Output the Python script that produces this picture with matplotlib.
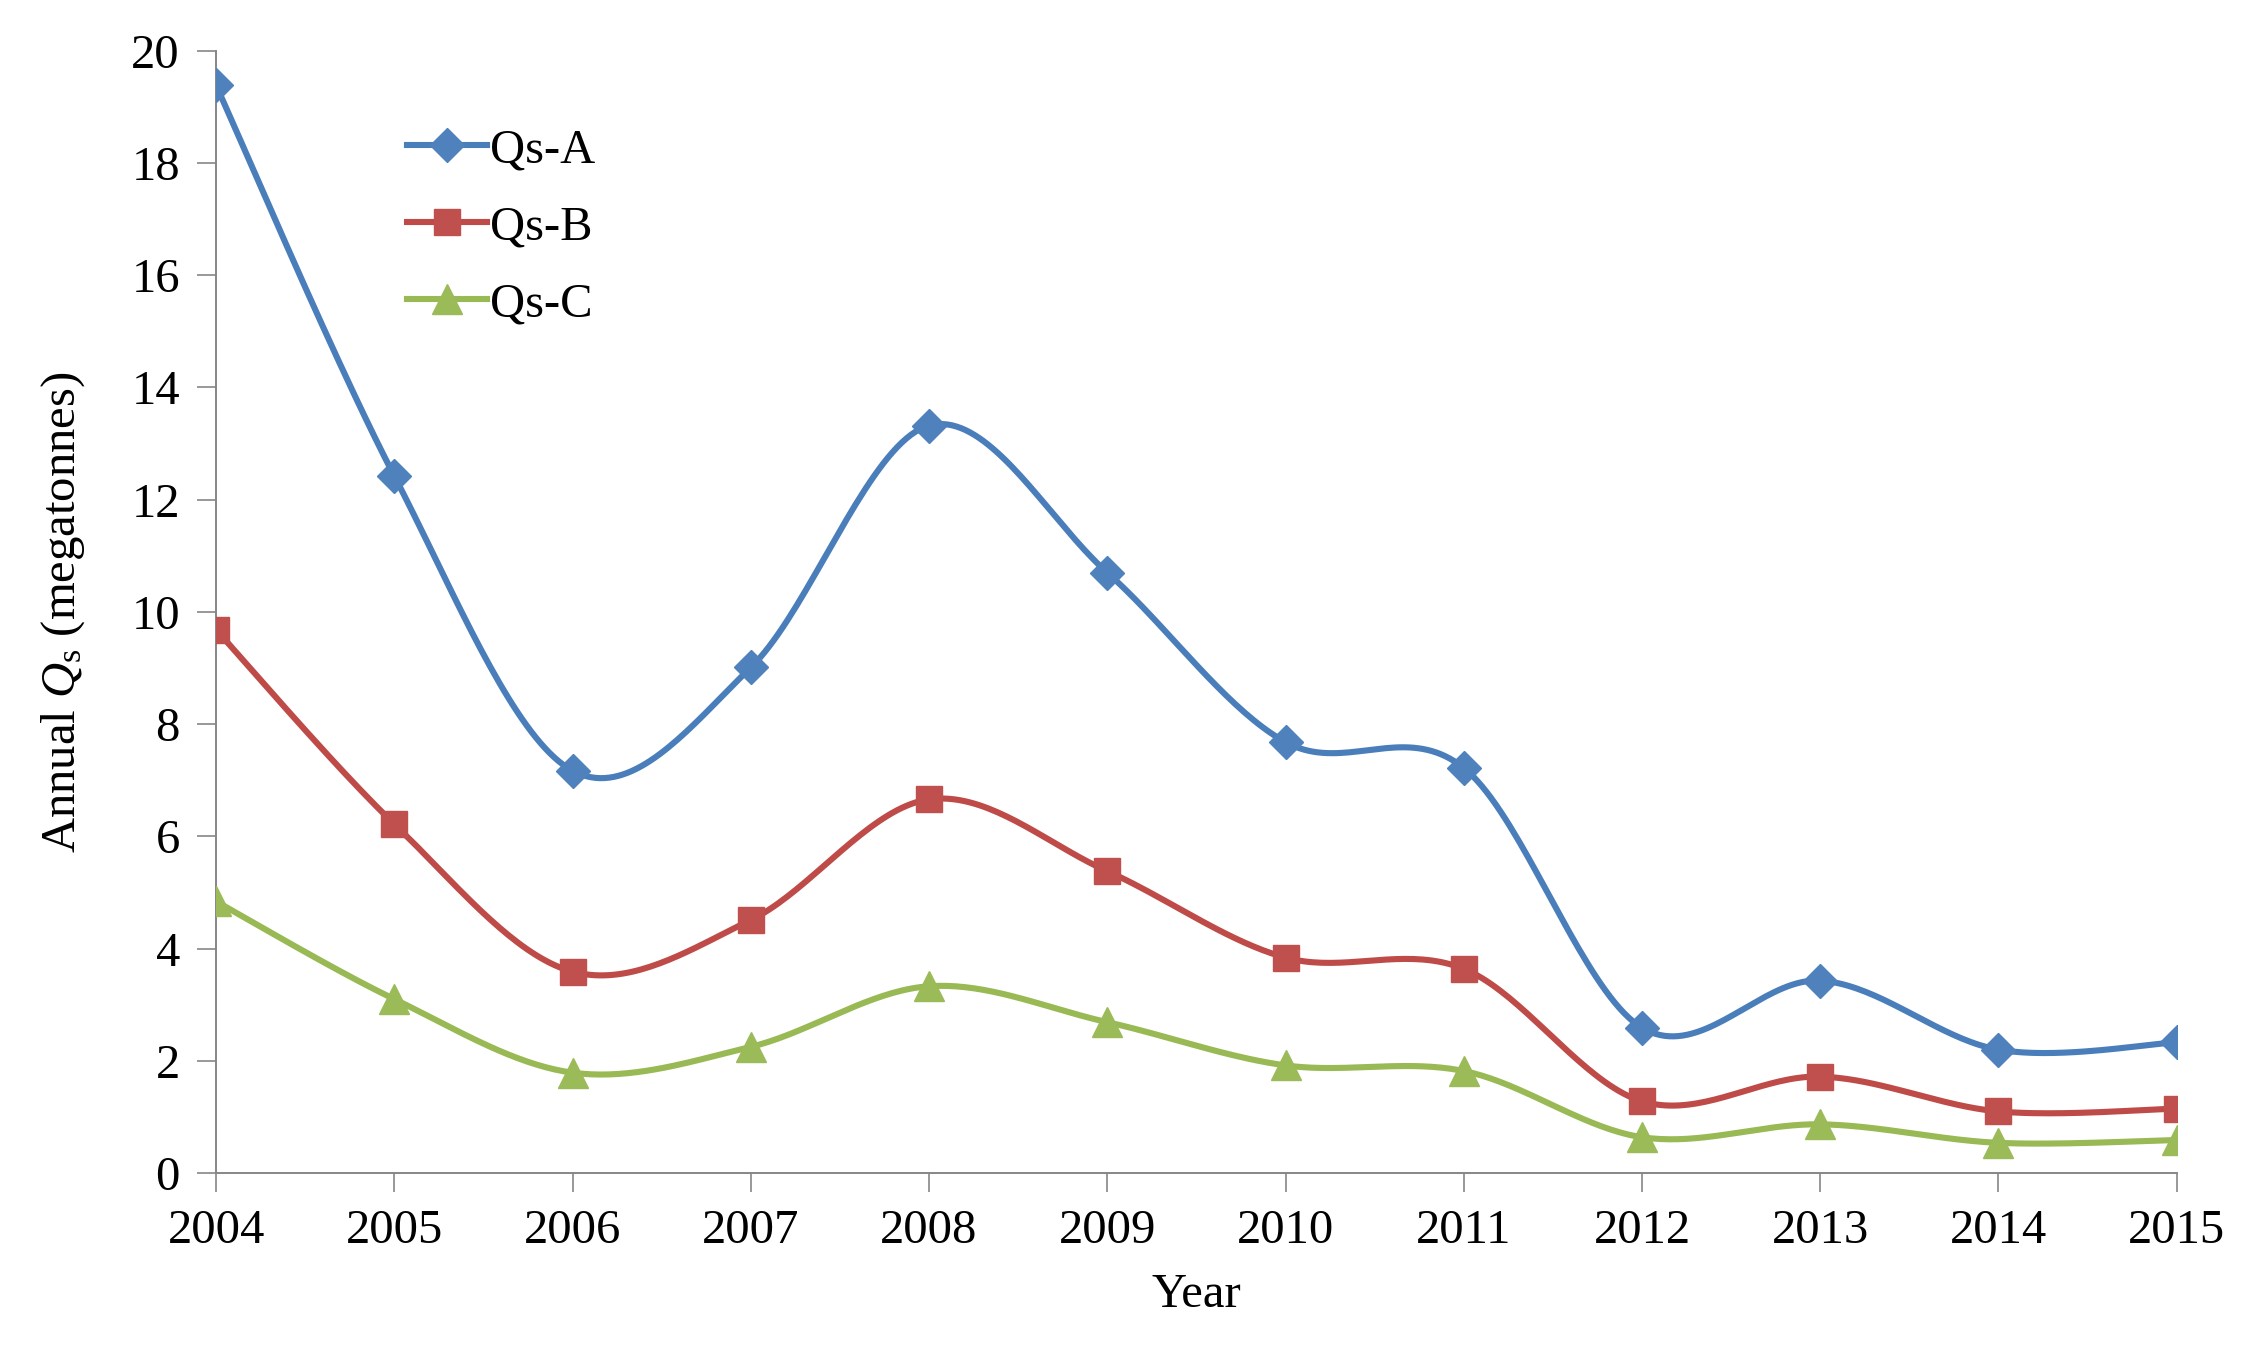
import numpy as np
import matplotlib
matplotlib.use("Agg")
import matplotlib.pyplot as plt

# data
years = [2004, 2005, 2006, 2007, 2008, 2009, 2010, 2011, 2012, 2013, 2014, 2015]
qs_a = [19.38, 12.42, 7.17, 9.01, 13.32, 10.70, 7.68, 7.22, 2.59, 3.43, 2.20, 2.33]
qs_b = [9.68, 6.22, 3.59, 4.51, 6.66, 5.38, 3.84, 3.64, 1.28, 1.72, 1.10, 1.15]
qs_c = [4.84, 3.10, 1.79, 2.25, 3.33, 2.69, 1.92, 1.82, 0.64, 0.87, 0.54, 0.59]
labels = ["Qs-A", "Qs-B", "Qs-C"]


def smooth(x, y, n=40):
    # Excel-like smoothed line (Catmull-Rom as cubic Bezier)
    x = np.asarray(x, float)
    y = np.asarray(y, float)
    px = np.concatenate([[x[0]], x, [x[-1]]])
    py = np.concatenate([[y[0]], y, [y[-1]]])
    t = np.linspace(0, 1, n)[:, None]
    xs, ys = [], []
    for i in range(1, len(px) - 2):
        p0 = np.array([px[i], py[i]])
        p3 = np.array([px[i + 1], py[i + 1]])
        c1 = p0 + (p3 - np.array([px[i - 1], py[i - 1]])) / 6
        c2 = p3 - (np.array([px[i + 2], py[i + 2]]) - p0) / 6
        b = ((1 - t) ** 3) * p0 + 3 * ((1 - t) ** 2) * t * c1 + 3 * (1 - t) * t ** 2 * c2 + t ** 3 * p3
        xs.append(b[:, 0])
        ys.append(b[:, 1])
    return np.concatenate(xs), np.concatenate(ys)


plt.rcParams['font.family'] = ['Liberation Serif', 'DejaVu Serif']
plt.rcParams['mathtext.fontset'] = 'custom'
plt.rcParams['mathtext.rm'] = 'Liberation Serif'
plt.rcParams['mathtext.it'] = 'Liberation Serif:italic'

fig = plt.figure(figsize=(22.51, 13.5), dpi=100)
ax = fig.add_axes([0.096, 0.131, 0.871, 0.8315])

line_cols = ['#4A7EBB', '#BE4B48', '#98B954']
mk_cols = ['#4F81BD', '#C0504D', '#9BBB59']
markers = ['D', 's', '^']
msizes = [17, 19, 21]

for vals, lab, lc, mc, m, ms in zip([qs_a, qs_b, qs_c], labels, line_cols, mk_cols, markers, msizes):
    sx, sy = smooth(years, vals)
    ax.plot(sx, sy, color=lc, lw=4.4, solid_capstyle='round', zorder=2)
    ax.plot(years, vals, linestyle='none', marker=m, markersize=ms,
            color=mc, markeredgecolor=mc, zorder=3)
    ax.plot([], [], color=lc, lw=4.4, marker=m, markersize=ms,
            markerfacecolor=mc, markeredgecolor=mc, label=lab)

ax.set_xlim(2004, 2015)
ax.set_ylim(0, 20)
ax.set_xticks(years)
ax.set_yticks(range(0, 21, 2))
ax.tick_params(direction='out', length=14, width=1.2, color='#868686',
               labelsize=35, pad=12)
for s in ['top', 'right']:
    ax.spines[s].set_visible(False)
for s in ['left', 'bottom']:
    ax.spines[s].set_color('#868686')
    ax.spines[s].set_linewidth(1.4)

ax.set_xlabel('Year', fontsize=35, labelpad=14)
ax.set_ylabel('Annual $Q_{\\rm s}$ (megatonnes)', fontsize=35, labelpad=32)

ax.legend(loc='upper left', bbox_to_anchor=(0.075, 0.97), frameon=False,
          fontsize=35, handlelength=1.65, handletextpad=0.05, labelspacing=0.68)

fig.savefig('out.png', dpi=100)
